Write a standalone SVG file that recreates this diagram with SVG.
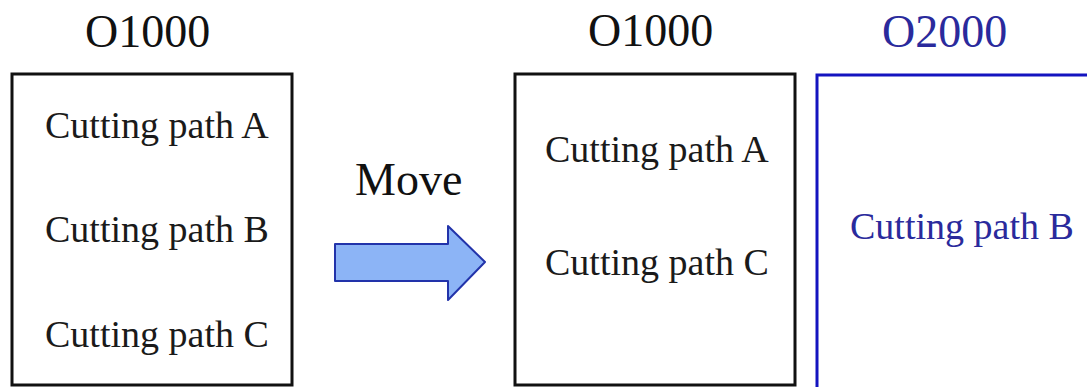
<svg xmlns="http://www.w3.org/2000/svg" width="1087" height="387" viewBox="0 0 1087 387">
<style>
.title{font-family:"Liberation Serif",serif;font-size:46px;fill:#111}
.lbl{font-family:"Liberation Serif",serif;font-size:38px;fill:#1a1a1a}
.blue{fill:#2a2a9c}
.box{fill:#fff;stroke:#111;stroke-width:3}
.bbox{fill:#fff;stroke:#1414c0;stroke-width:3}
</style>
<rect width="1087" height="387" fill="#fff"/>
<g id="prog1">
<text class="title" x="85" y="47">O1000</text>
<rect class="box" x="12" y="74" width="280" height="311"/>
<text class="lbl" x="45" y="138">Cutting path A</text>
<text class="lbl" x="45" y="242">Cutting path B</text>
<text class="lbl" x="45" y="347">Cutting path C</text>
</g>
<g id="prog1b">
<text class="title" x="588" y="46">O1000</text>
<rect class="box" x="515" y="74" width="280" height="311"/>
<text class="lbl" x="545" y="162">Cutting path A</text>
<text class="lbl" x="545" y="275">Cutting path C</text>
</g>
<g id="prog2">
<text class="title blue" x="882" y="47">O2000</text>
<rect class="bbox" x="817" y="75" width="290" height="320"/>
<text class="lbl blue" x="850" y="239">Cutting path B</text>
</g>
<g id="connectors">
<text class="title" x="355" y="195">Move</text>
<path d="M335,244 L448,244 L448,226 L485,262 L448,300 L448,281 L335,281 Z" fill="#8cb4f6" stroke="#2233aa" stroke-width="2" stroke-linejoin="round"/>
</g>
</svg>
